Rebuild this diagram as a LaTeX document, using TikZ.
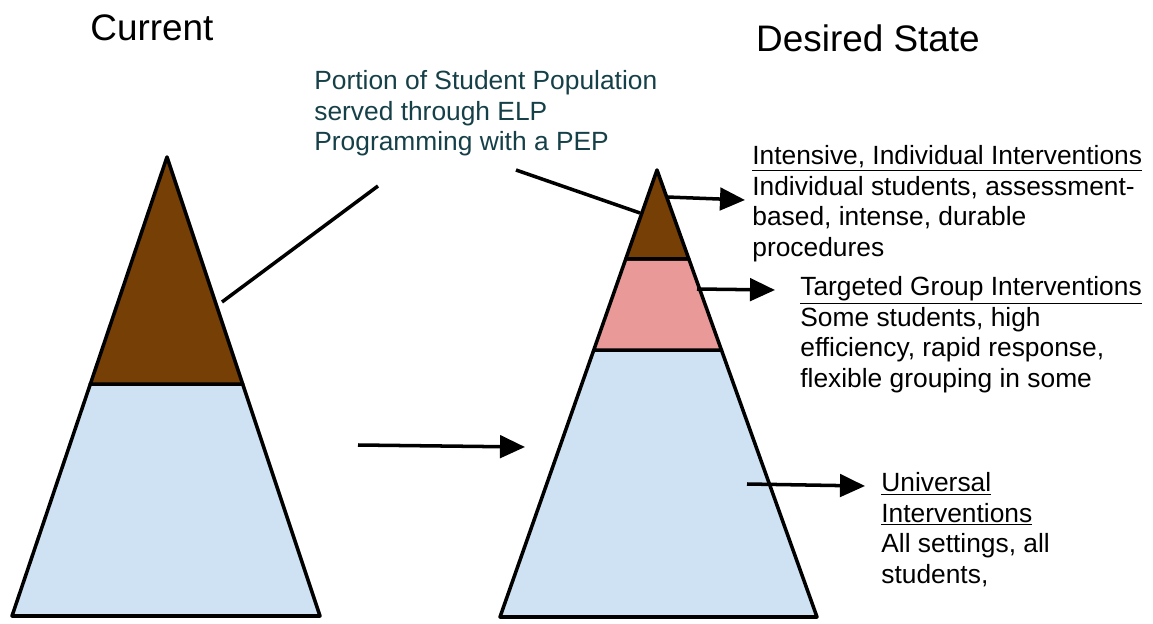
\documentclass[tikz,border=0pt]{standalone}
\usepackage{fontspec}
\setmainfont{Liberation Sans}
\usetikzlibrary{arrows.meta,calc}
\definecolor{topbrown}{RGB}{117,63,5}
\definecolor{midpink}{RGB}{234,153,153}
\definecolor{baseblue}{RGB}{207,226,243}
\definecolor{noteteal}{RGB}{22,64,72}
\tikzset{
  tier/.style={draw=black,line width=2pt,line join=round},
  lead/.style={line width=2pt},
  pointer/.style={line width=2pt,-{Triangle[length=0.5cm,width=0.45cm]}},
  title/.style={font=\fontsize{21}{25}\selectfont},
  label/.style={font=\fontsize{15}{17.4}\selectfont,align=left,anchor=north west,inner sep=0pt}
}

\begin{document}
\begin{tikzpicture}
                \useasboundingbox (0,0) rectangle (23.06,12.46);
                % current pyramid
                \coordinate (ctop) at (3.34,9.32);
                \coordinate (cleft) at (0.24,0.14);
                \coordinate (cright) at (6.40,0.14);
                \coordinate (cl1) at ($(ctop)!0.4946!(cleft)$);
                \coordinate (cr1) at ($(ctop)!0.4946!(cright)$);
                \draw[tier,fill=baseblue] (cl1)--(cr1)--(cright)--(cleft)--cycle;
                \draw[tier,fill=topbrown] (ctop)--(cr1)--(cl1)--cycle;
                % desired pyramid
                \coordinate (dtop) at (13.14,9.06);
                \coordinate (dleft) at (10.00,0.12);
                \coordinate (dright) at (16.34,0.12);
                \coordinate (dl1) at ($(dtop)!0.199!(dleft)$);
                \coordinate (dr1) at ($(dtop)!0.199!(dright)$);
                \coordinate (dl2) at ($(dtop)!0.403!(dleft)$);
                \coordinate (dr2) at ($(dtop)!0.403!(dright)$);
                \draw[tier,fill=baseblue] (dl2)--(dr2)--(dright)--(dleft)--cycle;
                \draw[tier,fill=midpink] (dl1)--(dr1)--(dr2)--(dl2)--cycle;
                \draw[tier,fill=topbrown] (dtop)--(dr1)--(dl1)--cycle;
                % titles and notes
                \node[title] (current) at (3.04,11.90) {Current};
                \node[title] (desired) at (17.36,11.70) {Desired State};
                \node[label,text=noteteal] (portion) at (6.28,11.06)
                    {Portion of Student Population\\served through ELP\\Programming with a PEP};
                \node[label] (intensive) at (15.04,9.56)
                    {\underline{Intensive, Individual Interventions}\\Individual students, assessment-\\based, intense, durable\\procedures};
                \node[label] (targeted) at (16.00,6.94)
                    {\underline{Targeted Group Interventions}\\Some students, high\\efficiency, rapid response,\\flexible grouping in some};
                \node[label] (universal) at (17.62,3.02)
                    {\underline{Universal}\\\underline{Interventions}\\All settings, all\\students,};
                % leader lines
                \coordinate (p1) at (7.56,8.74);
                \coordinate (c1) at (4.44,6.42);
                \coordinate (p2) at (10.32,9.06);
                \coordinate (d1) at (12.80,8.20);
                \draw[lead] (p1)--(c1);
                \draw[lead] (p2)--(d1);
                % arrows
                \coordinate (m1) at (7.16,3.56);
                \coordinate (m2) at (10.50,3.52);
                \draw[pointer] (m1)--(m2);
                \coordinate (a1) at (13.34,8.52);
                \coordinate (b1) at (14.90,8.46);
                \draw[pointer] (a1)--(b1);
                \coordinate (a2) at (13.94,6.68);
                \coordinate (b2) at (15.50,6.66);
                \draw[pointer] (a2)--(b2);
                \coordinate (a3) at (14.94,2.78);
                \coordinate (b3) at (17.30,2.74);
                \draw[pointer] (a3)--(b3);
            \end{tikzpicture}
\end{document}
